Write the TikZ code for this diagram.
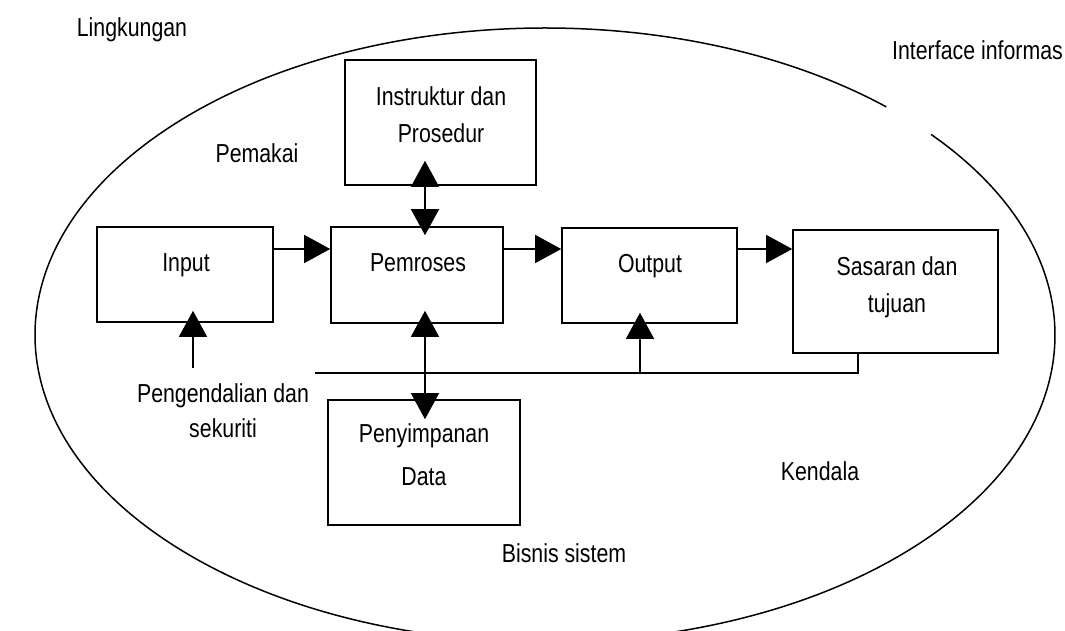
\documentclass[tikz,border=0pt]{standalone}
\usepackage{fontspec}
\setmainfont{Liberation Sans}[FakeStretch=0.82]
\usetikzlibrary{arrows.meta}

\begin{document}
\begin{tikzpicture}[x=1pt,y=1pt]
        \tikzstyle{box}=[rectangle, draw, line width=1.6pt, inner sep=0pt]
        \tikzstyle{txt}=[inner sep=0pt, align=center, font=\fontsize{26}{37}\selectfont]
        \tikzstyle{arr}=[line width=1.4pt, -{Triangle[length=26pt,width=28pt]}]
        \tikzstyle{arrs}=[line width=1.4pt, {Triangle[length=26pt,width=28pt]}-{Triangle[length=26pt,width=28pt]}]

        \useasboundingbox (0,0) rectangle (1065,-631);

        % sistem boundary, open at the upper right
        \draw[line width=1.5pt] (545,-335) ++(48:510pt and 307pt)
            arc[start angle=48, end angle=400.8, x radius=510pt, y radius=307pt];

        \node[box, minimum width=191pt, minimum height=125pt] (ins) at (440.5,-122.5) {};
        \node[box, minimum width=176pt, minimum height=95pt]  (inp) at (185,-274.5) {};
        \node[box, minimum width=172pt, minimum height=96pt]  (pro) at (417,-275) {};
        \node[box, minimum width=175pt, minimum height=95pt]  (out) at (649.5,-275.5) {};
        \node[box, minimum width=205pt, minimum height=123pt] (sas) at (895.5,-291.5) {};
        \node[box, minimum width=192pt, minimum height=125pt] (pen) at (424,-462.5) {};

        \node[txt, anchor=north] (instxt) at (441,-86) {Instruktur dan\\Prosedur};
        \node[txt, anchor=base]  (inptxt) at (186,-271) {Input};
        \node[txt, anchor=base]  (protxt) at (418,-271) {Pemroses};
        \node[txt, anchor=base]  (outtxt) at (650,-272) {Output};
        \node[txt, anchor=north] (sastxt) at (897,-256) {Sasaran dan\\tujuan};
        \node[txt, anchor=north] (pentxt) at (424,-423) {Penyimpanan\\[6pt]Data};

        \node[txt, anchor=base] (lingk) at (132,-37) {Lingkungan};
        \node[txt, anchor=base] (pemakai) at (257,-163) {Pemakai};
        \node[txt, anchor=base east] (iface) at (1063,-60) {Interface informas};
        \node[txt, anchor=north] (ctltxt) at (223,-383) {Pengendalian dan\\[-2pt]sekuriti};
        \node[txt, anchor=base] (kendala) at (820,-480) {Kendala};
        \node[txt, anchor=base] (bisnis) at (564,-562) {Bisnis sistem};

        \coordinate (row) at (0,-249);
        \coordinate (col) at (425,0);
        \coordinate (fb) at (858,-373);
        \coordinate (fbl) at (315,-373);
        \coordinate (oin) at (640,-373);
        \coordinate (ctl) at (193,-368);

        \draw[arr] (inp.east |- row) -- (pro.west |- row);
        \draw[arr] (pro.east |- row) -- (out.west |- row);
        \draw[arr] (out.east |- row) -- (sas.west |- row);

        \draw[arrs, shorten <=-25pt, shorten >=-9pt] (ins.south -| col) -- (pro.north -| col);
        \draw[arrs, shorten <=-13pt, shorten >=-20pt] (pro.south -| col) -- (pen.north -| col);

        % umpan balik
        \draw[line width=1.4pt] (sas.south -| fb) |- (fbl);
        \draw[arr, shorten >=-11pt] (oin) -- (out.south -| oin);
        \draw[arr, shorten >=-12pt] (ctl) -- (inp.south -| ctl);
\end{tikzpicture}
\end{document}
